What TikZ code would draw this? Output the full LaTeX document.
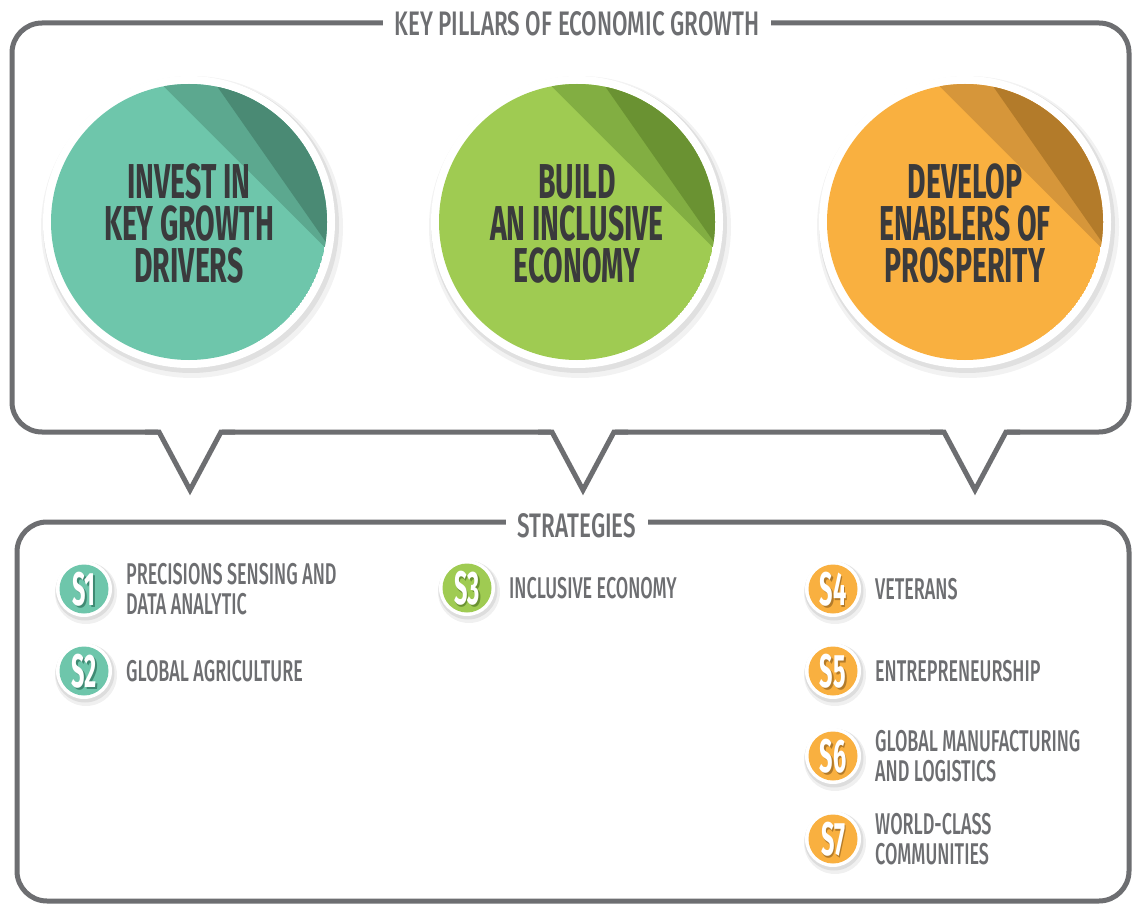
\documentclass[tikz,border=0pt]{standalone}
\usepackage{fontspec}
\newfontfamily\bebas[FakeStretch=0.58]{Fira Sans}
\newfontfamily\bebasm[FakeStretch=0.6,UprightFont={* Medium}]{Fira Sans}
\newfontfamily\bebasw[FakeStretch=0.66,UprightFont={* Medium}]{Fira Sans}
\newfontfamily\bebasb[FakeStretch=0.5,UprightFont={* Bold}]{Fira Sans}
\usetikzlibrary{calc}
\definecolor{linegray}{HTML}{6D6E71}
\definecolor{darktext}{HTML}{3A3A3C}
\definecolor{tealA}{HTML}{6EC6AB}
\definecolor{tealB}{HTML}{5CA88F}
\definecolor{tealC}{HTML}{4A8A74}
\definecolor{tealS}{HTML}{3F8A73}
\definecolor{greenA}{HTML}{9FCB52}
\definecolor{greenB}{HTML}{82AE42}
\definecolor{greenC}{HTML}{6A9232}
\definecolor{greenS}{HTML}{6A9232}
\definecolor{orangeA}{HTML}{F9B040}
\definecolor{orangeB}{HTML}{D6963A}
\definecolor{orangeC}{HTML}{B37B2A}
\definecolor{orangeS}{HTML}{B37B2A}
\newcommand\drawpillar[8]{%
  \coordinate (#1) at (#2,222);
  \fill[black,opacity=0.05] ($(#1)+(3,5)$) circle (151);
  \fill[black,opacity=0.07] ($(#1)+(2,3)$) circle (148);
  \fill[white] (#1) circle (146);
  \begin{scope}
    \clip (#1) circle (138);
    \fill[#3] (#1) circle (138);
    \fill[#4] ($(#1)+(-127,-237)$) -- ($(#1)+(236,125)$) -- ($(#1)+(400,-400)$) -- cycle;
    \fill[#5] ($(#1)+(-42,-236)$) -- ($(#1)+(204,116)$) -- ($(#1)+(400,-400)$) -- cycle;
  \end{scope}
  \node[pillartext] (#1a) at (#2,182) {#6};
  \node[pillartext] (#1b) at (#2,224) {#7};
  \node[pillartext] (#1c) at (#2,266) {#8};
}
\newcommand\drawbadge[7]{%
  \coordinate (#1) at (#2,#3);
  \fill[black,opacity=0.06] ($(#1)+(2,4)$) circle (31);
  \fill[black,opacity=0.08] ($(#1)+(1,2)$) circle (29.5);
  \fill[white] (#1) circle (28);
  \fill[#4] (#1) circle (24.5);
  \node[badgetext,text=#5] (#1s) at ($(#1)+(1.8,2.2)$) {#6};
  \node[badgetext,text=white] (#1n) at (#1) {#6};
  \node[label] (#1l) at (#2+42,#3) {#7};
}
\begin{document}
\begin{tikzpicture}[x=1pt,y=-1pt,
  boxline/.style={draw=linegray,line width=5pt,rounded corners=30pt},
  vline/.style={draw=linegray,line width=5pt,line join=miter},
  title/.style={font=\bebasw\fontsize{34}{34}\selectfont,text=linegray,fill=white,inner xsep=12pt,inner ysep=2pt},
  pillartext/.style={font=\bebas\bfseries\fontsize{49}{42}\selectfont,text=darktext,inner sep=0pt},
  badgetext/.style={font=\bebasb\fontsize{47}{47}\selectfont,inner sep=0pt},
  label/.style={font=\bebasm\fontsize{30}{30}\selectfont,text=linegray,align=left,anchor=west,inner sep=0pt}]
\useasboundingbox (0,0) rectangle (1133,904);
\fill[white] (0,0) rectangle (1133,904);
% top box
\draw[boxline] (12,23) rectangle (1129,432);
\foreach \px/\nm in {190/pa,583/pb,975/pc}{
  \coordinate (\nm) at (\px,490);
  \fill[white] (\px-32,429) rectangle (\px+32,436);
  \draw[vline] (\px-45,432) -- (\px-31,432) -- (\nm) -- (\px+31,432) -- (\px+45,432);
}
\node[title] (ttop) at (577,24) {KEY PILLARS OF ECONOMIC GROWTH};
% bottom box
\draw[boxline] (17,522) rectangle (1129,901);
\node[title] (tbot) at (577,526) {STRATEGIES};
% pillars
\drawpillar{p1}{189}{tealA}{tealB}{tealC}{INVEST IN}{KEY GROWTH}{DRIVERS}
\drawpillar{p2}{577}{greenA}{greenB}{greenC}{BUILD}{AN INCLUSIVE}{ECONOMY}
\drawpillar{p3}{965}{orangeA}{orangeB}{orangeC}{DEVELOP}{ENABLERS OF}{PROSPERITY}
% badges
\drawbadge{s1}{84}{589}{tealA}{tealS}{S1}{PRECISIONS SENSING AND\\DATA ANALYTIC}
\drawbadge{s2}{84}{671}{tealA}{tealS}{S2}{GLOBAL AGRICULTURE}
\drawbadge{s3}{467}{588}{greenA}{greenS}{S3}{INCLUSIVE ECONOMY}
\drawbadge{s4}{833}{589}{orangeA}{orangeS}{S4}{VETERANS}
\drawbadge{s5}{833}{671}{orangeA}{orangeS}{S5}{ENTREPRENEURSHIP}
\drawbadge{s6}{833}{756}{orangeA}{orangeS}{S6}{GLOBAL MANUFACTURING\\AND LOGISTICS}
\drawbadge{s7}{833}{839}{orangeA}{orangeS}{S7}{WORLD-CLASS\\COMMUNITIES}
\end{tikzpicture}
\end{document}
